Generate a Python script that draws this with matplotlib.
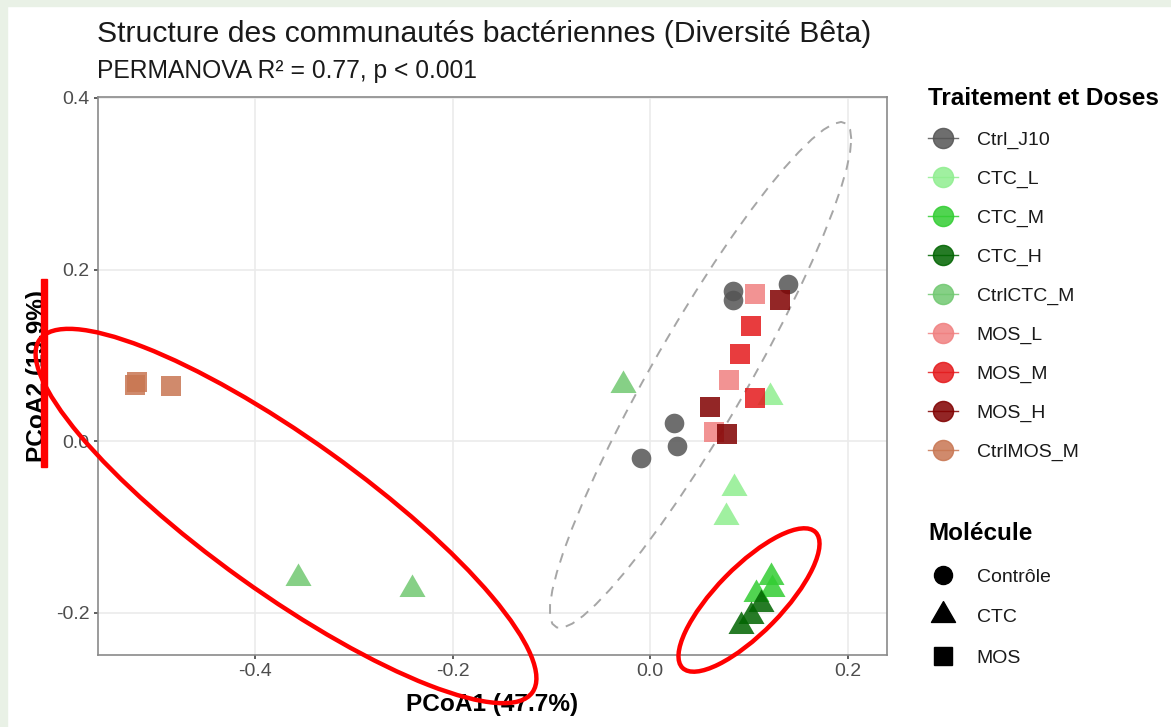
import numpy as np
import matplotlib
matplotlib.use("Agg")
import matplotlib.pyplot as plt
from matplotlib.lines import Line2D
from matplotlib.patches import Ellipse, Rectangle
from matplotlib.path import Path
from matplotlib.transforms import Affine2D

# ---------------- data ----------------
groups = ["Ctrl_J10", "CTC_L", "CTC_M", "CTC_H", "CtrlCTC_M",
          "MOS_L", "MOS_M", "MOS_H", "CtrlMOS_M"]
group_colors = ["#555555", "#90EE90", "#32CD32", "#006400", "#71C871",
                "#F08080", "#E41A1C", "#800000", "#C87652"]
group_molecule = ["Contrôle", "CTC", "CTC", "CTC", "CTC",
                  "MOS", "MOS", "MOS", "MOS"]

ctrl_j10_x = [0.084, 0.084, 0.140, 0.024, 0.027, -0.009]
ctrl_j10_y = [0.175, 0.165, 0.183, 0.021, -0.005, -0.020]
ctc_l_x = [0.122, 0.085, 0.077]
ctc_l_y = [0.051, -0.054, -0.088]
ctc_m_x = [0.123, 0.124, 0.107]
ctc_m_y = [-0.158, -0.172, -0.178]
ctc_h_x = [0.112, 0.102, 0.092]
ctc_h_y = [-0.190, -0.204, -0.215]
ctrlctc_m_x = [-0.027, -0.356, -0.241]
ctrlctc_m_y = [0.066, -0.159, -0.172]
mos_l_x = [0.106, 0.080, 0.065]
mos_l_y = [0.172, 0.071, 0.011]
mos_m_x = [0.102, 0.091, 0.106]
mos_m_y = [0.134, 0.102, 0.050]
mos_h_x = [0.132, 0.061, 0.078]
mos_h_y = [0.164, 0.040, 0.009]
ctrlmos_m_x = [-0.520, -0.522, -0.485]
ctrlmos_m_y = [0.069, 0.066, 0.064]

group_x = [ctrl_j10_x, ctc_l_x, ctc_m_x, ctc_h_x, ctrlctc_m_x,
           mos_l_x, mos_m_x, mos_h_x, ctrlmos_m_x]
group_y = [ctrl_j10_y, ctc_l_y, ctc_m_y, ctc_h_y, ctrlctc_m_y,
           mos_l_y, mos_m_y, mos_h_y, ctrlmos_m_y]

molecules = ["Contrôle", "CTC", "MOS"]
x_ticks = [-0.4, -0.2, 0.0, 0.2]
y_ticks = [-0.2, 0.0, 0.2, 0.4]
x_tick_labels = ["-0.4", "-0.2", "0.0", "0.2"]
y_tick_labels = ["-0.2", "0.0", "0.2", "0.4"]

title = "Structure des communautés bactériennes (Diversité Bêta)"
subtitle = "PERMANOVA R² = 0.77, p < 0.001"
xlabel = "PCoA1 (47.7%)"
ylabel = "PCoA2 (19.9%)"

# ---------------- style ----------------
plt.rcParams['font.family'] = ['Liberation Sans', 'DejaVu Sans']
W, H = 1171, 727
fig = plt.figure(figsize=(W / 100, H / 100), dpi=100)
fig.patch.set_facecolor("white")

def fx(px):
    return px / W

def fy(py):
    return 1 - py / H

# screenshot frame strips
fig.patches.append(Rectangle((0, 0), fx(7), 1, transform=fig.transFigure,
                             color="#E9F1E6", zorder=0))
fig.patches.append(Rectangle((0, fy(6)), 1, fy(0) - fy(6), transform=fig.transFigure,
                             color="#E9F1E6", zorder=0))

L, R, T, B = 98, 887, 97, 655
ax = fig.add_axes([fx(L), fy(B), fx(R) - fx(L), fy(T) - fy(B)])
ax.set_xlim(-0.559, 0.240)
ax.set_ylim(-0.249, 0.401)
ax.set_facecolor("white")
for s in ax.spines.values():
    s.set_color("#8a8a8a")
    s.set_linewidth(1.2)
ax.set_xticks(x_ticks)
ax.set_xticklabels(x_tick_labels)
ax.set_yticks(y_ticks)
ax.set_yticklabels(y_tick_labels)
ax.tick_params(axis="both", length=3, width=1.1, color="#333333",
               labelcolor="#4d4d4d", labelsize=14, pad=3)
ax.grid(True, color="#ebebeb", linewidth=1.2)
ax.set_axisbelow(True)

# equilateral triangle marker
tri = Path([(-1.0, -0.577), (1.0, -0.577), (0.0, 1.155), (-1.0, -0.577)],
           [Path.MOVETO, Path.LINETO, Path.LINETO, Path.CLOSEPOLY])
shape_marker = {"Contrôle": "o", "CTC": tri, "MOS": "s"}
shape_size = {"Contrôle": 200, "CTC": 470, "MOS": 205}

ALPHA = 0.85
for g, c, m, xs, ys in zip(groups, group_colors, group_molecule, group_x, group_y):
    ax.scatter(xs, ys, marker=shape_marker[m], s=shape_size[m], color=c,
               alpha=ALPHA, linewidths=0, zorder=3)

# stat_ellipse (type "t") for Ctrl_J10
def cov_trob(X, nu=5, tol=1e-4, maxit=100):
    n, p = X.shape
    loc = X.mean(0)
    w = np.ones(n)
    Xc = X - loc
    for _ in range(maxit):
        w0 = w
        Xc = X - loc
        U, d, Vt = np.linalg.svd(np.sqrt(w / w.sum())[:, None] * Xc, full_matrices=False)
        wX = Xc @ Vt.T @ np.diag(1 / d)
        Q = (wX ** 2).sum(1)
        w = (nu + p) / (nu + Q)
        loc = (w[:, None] * X).sum(0) / w.sum()
        if np.all(np.abs(w - w0) < tol):
            break
    cov = (np.sqrt(w)[:, None] * Xc).T @ (np.sqrt(w)[:, None] * Xc) / n
    return loc, cov

Xc = np.column_stack([ctrl_j10_x, ctrl_j10_y])
center, shape = cov_trob(Xc)
Rchol = np.linalg.cholesky(shape).T
qf_95_2_5 = 5.786135
radius = np.sqrt(2 * qf_95_2_5)
theta = np.linspace(0, 2 * np.pi, 52)
unit = np.column_stack([np.cos(theta), np.sin(theta)])
ell = center + radius * (unit @ Rchol)
ax.plot(ell[:, 0], ell[:, 1], color="#a6a6a6", lw=1.4, linestyle=(0, (5, 4)), zorder=2)

ax.set_xlabel(xlabel, fontsize=17.6, fontweight="bold", labelpad=9)
ax.set_ylabel(ylabel, fontsize=17.6, fontweight="bold", labelpad=5)

fig.text(fx(97), fy(42), title, fontsize=21.7, ha="left", va="baseline", color="#1a1a1a")
fig.text(fx(97), fy(78), subtitle, fontsize=17.7, ha="left", va="baseline", color="#1a1a1a")

# legends
h1 = [Line2D([0], [0], marker="o", color=c, markersize=14.5, lw=1.0, alpha=ALPHA)
      for c in group_colors]
leg1 = fig.legend(h1, groups, loc="upper left", bbox_to_anchor=(fx(928), fy(87)),
                  bbox_transform=fig.transFigure, frameon=False,
                  title="Traitement et Doses",
                  title_fontproperties={"size": 17.5, "weight": "bold"},
                  fontsize=14, alignment="left", borderpad=0, borderaxespad=0,
                  labelspacing=1.09, handlelength=1.55, handletextpad=0.95)
for t in leg1.get_texts():
    t.set_color("#1a1a1a")

h2 = [Line2D([0], [0], marker="o", color="black", markersize=13, lw=0),
      Line2D([0], [0], marker=tri, color="black", markersize=20, lw=0),
      Line2D([0], [0], marker="s", color="black", markersize=12.5, lw=0)]
leg2 = fig.legend(h2, molecules, loc="upper left", bbox_to_anchor=(fx(928), fy(522)),
                  bbox_transform=fig.transFigure, frameon=False,
                  title="Molécule",
                  title_fontproperties={"size": 17.5, "weight": "bold"},
                  fontsize=14, alignment="left", borderpad=0, borderaxespad=0,
                  labelspacing=1.18, handlelength=1.55, handletextpad=0.95)
for t in leg2.get_texts():
    t.set_color("#1a1a1a")

# red hand annotations (figure pixel space)
def red_ellipse(cx, cy, a, b, ang_deg):
    e = Ellipse((0, 0), width=2 * a, height=2 * b, angle=ang_deg,
                fill=False, edgecolor="#FF0000", linewidth=3.2, zorder=10)
    e.set_transform(Affine2D().translate(cx, H - cy).scale(1.0 / W, 1.0 / H)
                    + fig.transFigure)
    fig.patches.append(e)

red_ellipse(286, 516, 303, 77, -35.6)
red_ellipse(749, 600, 95, 33, 45.6)

fig.patches.append(Rectangle((fx(41), fy(467)), fx(6), fy(279) - fy(467),
                             transform=fig.transFigure, color="#FF0000", zorder=10))

fig.savefig("out.png", dpi=100)
